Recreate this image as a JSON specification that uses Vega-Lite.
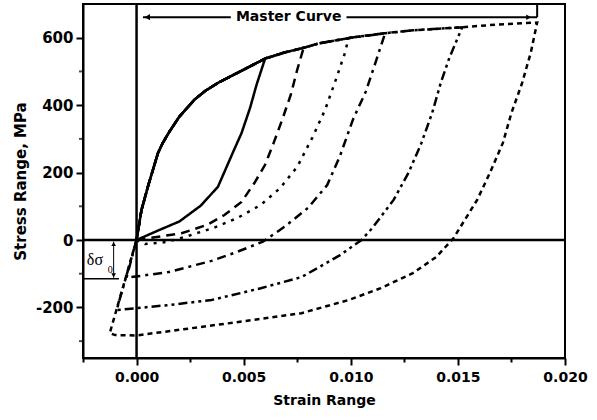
{
  "$schema": "https://vega.github.io/schema/vega-lite/v6.json",
  "width": 482,
  "height": 354,
  "autosize": "none",
  "padding": {"left": 83, "top": 4, "right": 32, "bottom": 62},
  "background": "white",
  "config": {
    "view": {"stroke": "black", "strokeWidth": 2},
    "axis": {
      "grid": false,
      "domainColor": "black",
      "domainWidth": 2,
      "tickColor": "black",
      "tickWidth": 2,
      "labelFont": "DejaVu Sans",
      "labelFontWeight": "bold",
      "labelColor": "black",
      "titleFont": "DejaVu Sans",
      "titleFontWeight": "bold",
      "titleColor": "black",
      "titleFontSize": 14,
      "labelOverlap": false,
      "labelFlush": false
    }
  },
  "datasets": {
    "loops": [
      {"loop": "L1", "i": 0, "strain": 0, "stress": 0},
      {"loop": "L1", "i": 1, "strain": 0.001, "stress": 28},
      {"loop": "L1", "i": 2, "strain": 0.002, "stress": 55},
      {"loop": "L1", "i": 3, "strain": 0.003, "stress": 102},
      {"loop": "L1", "i": 4, "strain": 0.0038, "stress": 158},
      {"loop": "L1", "i": 5, "strain": 0.0045, "stress": 260},
      {"loop": "L1", "i": 6, "strain": 0.0049, "stress": 317},
      {"loop": "L1", "i": 7, "strain": 0.0053, "stress": 392},
      {"loop": "L1", "i": 8, "strain": 0.0056, "stress": 460},
      {"loop": "L1", "i": 9, "strain": 0.006, "stress": 538},
      {"loop": "L1", "i": 10, "strain": 0.0049, "stress": 502},
      {"loop": "L1", "i": 11, "strain": 0.0038, "stress": 466},
      {"loop": "L1", "i": 12, "strain": 0.0032, "stress": 442},
      {"loop": "L1", "i": 13, "strain": 0.0027, "stress": 416},
      {"loop": "L1", "i": 14, "strain": 0.002, "stress": 366},
      {"loop": "L1", "i": 15, "strain": 0.0015, "stress": 318},
      {"loop": "L1", "i": 16, "strain": 0.0012, "stress": 285},
      {"loop": "L1", "i": 17, "strain": 0.001, "stress": 258},
      {"loop": "L1", "i": 18, "strain": 0.00056, "stress": 165},
      {"loop": "L1", "i": 19, "strain": 0.00023, "stress": 89},
      {"loop": "L1", "i": 20, "strain": 0, "stress": 0},

      {"loop": "L2", "i": 0, "strain": 0, "stress": 0},
      {"loop": "L2", "i": 1, "strain": 0.0021, "stress": 20},
      {"loop": "L2", "i": 2, "strain": 0.0033, "stress": 45},
      {"loop": "L2", "i": 3, "strain": 0.0041, "stress": 74},
      {"loop": "L2", "i": 4, "strain": 0.0049, "stress": 113},
      {"loop": "L2", "i": 5, "strain": 0.0055, "stress": 169},
      {"loop": "L2", "i": 6, "strain": 0.006, "stress": 223},
      {"loop": "L2", "i": 7, "strain": 0.0064, "stress": 288},
      {"loop": "L2", "i": 8, "strain": 0.0068, "stress": 357},
      {"loop": "L2", "i": 9, "strain": 0.0072, "stress": 431},
      {"loop": "L2", "i": 10, "strain": 0.0075, "stress": 505},
      {"loop": "L2", "i": 11, "strain": 0.0078, "stress": 570},
      {"loop": "L2", "i": 12, "strain": 0.0069, "stress": 556},
      {"loop": "L2", "i": 13, "strain": 0.006, "stress": 538},
      {"loop": "L2", "i": 14, "strain": 0.0049, "stress": 502},
      {"loop": "L2", "i": 15, "strain": 0.0038, "stress": 466},
      {"loop": "L2", "i": 16, "strain": 0.0032, "stress": 442},
      {"loop": "L2", "i": 17, "strain": 0.0027, "stress": 416},
      {"loop": "L2", "i": 18, "strain": 0.002, "stress": 366},
      {"loop": "L2", "i": 19, "strain": 0.0015, "stress": 318},
      {"loop": "L2", "i": 20, "strain": 0.0012, "stress": 285},
      {"loop": "L2", "i": 21, "strain": 0.001, "stress": 258},
      {"loop": "L2", "i": 22, "strain": 0.00056, "stress": 165},
      {"loop": "L2", "i": 23, "strain": 0.00023, "stress": 89},
      {"loop": "L2", "i": 24, "strain": 0, "stress": 0},

      {"loop": "L3", "i": 0, "strain": 0, "stress": 0},
      {"loop": "L3", "i": 1, "strain": 0.0004, "stress": -12},
      {"loop": "L3", "i": 2, "strain": 0.0014, "stress": -6},
      {"loop": "L3", "i": 3, "strain": 0.0024, "stress": 12},
      {"loop": "L3", "i": 4, "strain": 0.0036, "stress": 36},
      {"loop": "L3", "i": 5, "strain": 0.0047, "stress": 65},
      {"loop": "L3", "i": 6, "strain": 0.0058, "stress": 104},
      {"loop": "L3", "i": 7, "strain": 0.0067, "stress": 154},
      {"loop": "L3", "i": 8, "strain": 0.0075, "stress": 217},
      {"loop": "L3", "i": 9, "strain": 0.0082, "stress": 303},
      {"loop": "L3", "i": 10, "strain": 0.0088, "stress": 386},
      {"loop": "L3", "i": 11, "strain": 0.0093, "stress": 475},
      {"loop": "L3", "i": 12, "strain": 0.0097, "stress": 550},
      {"loop": "L3", "i": 13, "strain": 0.0099, "stress": 598},
      {"loop": "L3", "i": 14, "strain": 0.0085, "stress": 583},
      {"loop": "L3", "i": 15, "strain": 0.0078, "stress": 570},
      {"loop": "L3", "i": 16, "strain": 0.0069, "stress": 556},
      {"loop": "L3", "i": 17, "strain": 0.006, "stress": 538},
      {"loop": "L3", "i": 18, "strain": 0.0049, "stress": 502},
      {"loop": "L3", "i": 19, "strain": 0.0038, "stress": 466},
      {"loop": "L3", "i": 20, "strain": 0.0032, "stress": 442},
      {"loop": "L3", "i": 21, "strain": 0.0027, "stress": 416},
      {"loop": "L3", "i": 22, "strain": 0.002, "stress": 366},
      {"loop": "L3", "i": 23, "strain": 0.0015, "stress": 318},
      {"loop": "L3", "i": 24, "strain": 0.0012, "stress": 285},
      {"loop": "L3", "i": 25, "strain": 0.001, "stress": 258},
      {"loop": "L3", "i": 26, "strain": 0.00056, "stress": 165},
      {"loop": "L3", "i": 27, "strain": 0.00023, "stress": 89},
      {"loop": "L3", "i": 28, "strain": 0, "stress": 0},

      {"loop": "L4", "i": 0, "strain": 0, "stress": 0},
      {"loop": "L4", "i": 1, "strain": -0.00047, "stress": -112},
      {"loop": "L4", "i": 2, "strain": 0.0015, "stress": -95},
      {"loop": "L4", "i": 3, "strain": 0.0035, "stress": -62},
      {"loop": "L4", "i": 4, "strain": 0.0047, "stress": -35},
      {"loop": "L4", "i": 5, "strain": 0.0059, "stress": -5},
      {"loop": "L4", "i": 6, "strain": 0.0069, "stress": 39},
      {"loop": "L4", "i": 7, "strain": 0.008, "stress": 95},
      {"loop": "L4", "i": 8, "strain": 0.0089, "stress": 163},
      {"loop": "L4", "i": 9, "strain": 0.0095, "stress": 250},
      {"loop": "L4", "i": 10, "strain": 0.0101, "stress": 357},
      {"loop": "L4", "i": 11, "strain": 0.0107, "stress": 440},
      {"loop": "L4", "i": 12, "strain": 0.0112, "stress": 535},
      {"loop": "L4", "i": 13, "strain": 0.0116, "stress": 613},
      {"loop": "L4", "i": 14, "strain": 0.01, "stress": 600},
      {"loop": "L4", "i": 15, "strain": 0.0085, "stress": 583},
      {"loop": "L4", "i": 16, "strain": 0.0078, "stress": 570},
      {"loop": "L4", "i": 17, "strain": 0.0069, "stress": 556},
      {"loop": "L4", "i": 18, "strain": 0.006, "stress": 538},
      {"loop": "L4", "i": 19, "strain": 0.0049, "stress": 502},
      {"loop": "L4", "i": 20, "strain": 0.0038, "stress": 466},
      {"loop": "L4", "i": 21, "strain": 0.0032, "stress": 442},
      {"loop": "L4", "i": 22, "strain": 0.0027, "stress": 416},
      {"loop": "L4", "i": 23, "strain": 0.002, "stress": 366},
      {"loop": "L4", "i": 24, "strain": 0.0015, "stress": 318},
      {"loop": "L4", "i": 25, "strain": 0.0012, "stress": 285},
      {"loop": "L4", "i": 26, "strain": 0.001, "stress": 258},
      {"loop": "L4", "i": 27, "strain": 0.00056, "stress": 165},
      {"loop": "L4", "i": 28, "strain": 0.00023, "stress": 89},
      {"loop": "L4", "i": 29, "strain": 0, "stress": 0},

      {"loop": "L5", "i": 0, "strain": 0, "stress": 0},
      {"loop": "L5", "i": 1, "strain": -0.00093, "stress": -208},
      {"loop": "L5", "i": 2, "strain": 0.0015, "stress": -193},
      {"loop": "L5", "i": 3, "strain": 0.0035, "stress": -178},
      {"loop": "L5", "i": 4, "strain": 0.0058, "stress": -143},
      {"loop": "L5", "i": 5, "strain": 0.0077, "stress": -110},
      {"loop": "L5", "i": 6, "strain": 0.0095, "stress": -45},
      {"loop": "L5", "i": 7, "strain": 0.0105, "stress": 0},
      {"loop": "L5", "i": 8, "strain": 0.011, "stress": 35},
      {"loop": "L5", "i": 9, "strain": 0.012, "stress": 119},
      {"loop": "L5", "i": 10, "strain": 0.0127, "stress": 200},
      {"loop": "L5", "i": 11, "strain": 0.0133, "stress": 288},
      {"loop": "L5", "i": 12, "strain": 0.0138, "stress": 377},
      {"loop": "L5", "i": 13, "strain": 0.0142, "stress": 466},
      {"loop": "L5", "i": 14, "strain": 0.0146, "stress": 540},
      {"loop": "L5", "i": 15, "strain": 0.0152, "stress": 631},
      {"loop": "L5", "i": 16, "strain": 0.0129, "stress": 622},
      {"loop": "L5", "i": 17, "strain": 0.0114, "stress": 612},
      {"loop": "L5", "i": 18, "strain": 0.01, "stress": 600},
      {"loop": "L5", "i": 19, "strain": 0.0085, "stress": 583},
      {"loop": "L5", "i": 20, "strain": 0.0078, "stress": 570},
      {"loop": "L5", "i": 21, "strain": 0.0069, "stress": 556},
      {"loop": "L5", "i": 22, "strain": 0.006, "stress": 538},
      {"loop": "L5", "i": 23, "strain": 0.0049, "stress": 502},
      {"loop": "L5", "i": 24, "strain": 0.0038, "stress": 466},
      {"loop": "L5", "i": 25, "strain": 0.0032, "stress": 442},
      {"loop": "L5", "i": 26, "strain": 0.0027, "stress": 416},
      {"loop": "L5", "i": 27, "strain": 0.002, "stress": 366},
      {"loop": "L5", "i": 28, "strain": 0.0015, "stress": 318},
      {"loop": "L5", "i": 29, "strain": 0.0012, "stress": 285},
      {"loop": "L5", "i": 30, "strain": 0.001, "stress": 258},
      {"loop": "L5", "i": 31, "strain": 0.00056, "stress": 165},
      {"loop": "L5", "i": 32, "strain": 0.00023, "stress": 89},
      {"loop": "L5", "i": 33, "strain": 0, "stress": 0},

      {"loop": "L6", "i": 0, "strain": 0, "stress": 0},
      {"loop": "L6", "i": 1, "strain": -0.00125, "stress": -276},
      {"loop": "L6", "i": 2, "strain": -0.001, "stress": -282},
      {"loop": "L6", "i": 3, "strain": 0, "stress": -283},
      {"loop": "L6", "i": 4, "strain": 0.003, "stress": -258},
      {"loop": "L6", "i": 5, "strain": 0.00535, "stress": -238},
      {"loop": "L6", "i": 6, "strain": 0.0077, "stress": -217},
      {"loop": "L6", "i": 7, "strain": 0.0099, "stress": -178},
      {"loop": "L6", "i": 8, "strain": 0.0114, "stress": -143},
      {"loop": "L6", "i": 9, "strain": 0.0129, "stress": -98},
      {"loop": "L6", "i": 10, "strain": 0.014, "stress": -50},
      {"loop": "L6", "i": 11, "strain": 0.0148, "stress": 6},
      {"loop": "L6", "i": 12, "strain": 0.0159, "stress": 119},
      {"loop": "L6", "i": 13, "strain": 0.0165, "stress": 200},
      {"loop": "L6", "i": 14, "strain": 0.0171, "stress": 288},
      {"loop": "L6", "i": 15, "strain": 0.0175, "stress": 377},
      {"loop": "L6", "i": 16, "strain": 0.018, "stress": 466},
      {"loop": "L6", "i": 17, "strain": 0.0184, "stress": 555},
      {"loop": "L6", "i": 18, "strain": 0.0187, "stress": 645},
      {"loop": "L6", "i": 19, "strain": 0.0168, "stress": 639},
      {"loop": "L6", "i": 20, "strain": 0.015, "stress": 630},
      {"loop": "L6", "i": 21, "strain": 0.0129, "stress": 622},
      {"loop": "L6", "i": 22, "strain": 0.0114, "stress": 612},
      {"loop": "L6", "i": 23, "strain": 0.01, "stress": 600},
      {"loop": "L6", "i": 24, "strain": 0.0085, "stress": 583},
      {"loop": "L6", "i": 25, "strain": 0.0078, "stress": 570},
      {"loop": "L6", "i": 26, "strain": 0.0069, "stress": 556},
      {"loop": "L6", "i": 27, "strain": 0.006, "stress": 538},
      {"loop": "L6", "i": 28, "strain": 0.0049, "stress": 502},
      {"loop": "L6", "i": 29, "strain": 0.0038, "stress": 466},
      {"loop": "L6", "i": 30, "strain": 0.0032, "stress": 442},
      {"loop": "L6", "i": 31, "strain": 0.0027, "stress": 416},
      {"loop": "L6", "i": 32, "strain": 0.002, "stress": 366},
      {"loop": "L6", "i": 33, "strain": 0.0015, "stress": 318},
      {"loop": "L6", "i": 34, "strain": 0.0012, "stress": 285},
      {"loop": "L6", "i": 35, "strain": 0.001, "stress": 258},
      {"loop": "L6", "i": 36, "strain": 0.00056, "stress": 165},
      {"loop": "L6", "i": 37, "strain": 0.00023, "stress": 89},
      {"loop": "L6", "i": 38, "strain": 0, "stress": 0}
    ]
  },
  "layer": [
    {
      "data": {"name": "loops"},
      "mark": {"type": "line", "color": "black", "strokeWidth": 2.5, "clip": true},
      "encoding": {
        "x": {
          "field": "strain", "type": "quantitative",
          "scale": {"domain": [-0.0025, 0.02], "nice": false, "zero": false},
          "axis": {
            "title": "Strain Range",
            "values": [-0.0025, 0, 0.0025, 0.005, 0.0075, 0.01, 0.0125, 0.015, 0.0175, 0.02],
            "format": ".3f",
            "labelExpr": "abs(datum.value*200 - round(datum.value*200)) < 0.01 ? datum.label : ''",
            "tickSize": {"condition": {"test": "abs(datum.value*200 - round(datum.value*200)) < 0.01", "value": 7}, "value": 4},
            "labelFontSize": 14,
            "labelPadding": 5,
            "titlePadding": 9
          }
        },
        "y": {
          "field": "stress", "type": "quantitative",
          "scale": {"domain": [-350, 700], "nice": false, "zero": false},
          "axis": {
            "title": "Stress Range, MPa",
            "values": [-200, 0, 200, 400, 600],
            "format": "d",
            "labelExpr": "datum.value < 0 ? '-' + abs(datum.value) : '' + datum.value",
            "tickSize": 7,
            "labelFontSize": 15,
            "labelPadding": 3,
            "titlePadding": 7,
            "titleFontSize": 15
          }
        },
        "order": {"field": "i", "type": "quantitative"},
        "detail": {"field": "loop", "type": "nominal"},
        "strokeDash": {
          "field": "loop", "type": "nominal",
          "scale": {
            "domain": ["L1", "L2", "L3", "L4", "L5", "L6"],
            "range": [[1, 0], [9, 6], [3, 6], [9, 5, 3, 5], [9, 4, 3, 4, 3, 4], [5, 4]]
          },
          "legend": null
        }
      }
    },
    {
      "data": {"values": [{"minor": -300}, {"minor": -100}, {"minor": 100}, {"minor": 300}, {"minor": 500}]},
      "mark": {"type": "tick", "orient": "horizontal", "color": "black", "thickness": 2, "size": 4, "xOffset": -2, "clip": false},
      "encoding": {"x": {"datum": -0.0025}, "y": {"field": "minor", "type": "quantitative"}}
    },
    {
      "data": {"values": [{}]},
      "mark": {"type": "rule", "color": "black", "strokeWidth": 2.5},
      "encoding": {"x": {"datum": 0}}
    },
    {
      "data": {"values": [{}]},
      "mark": {"type": "rule", "color": "black", "strokeWidth": 2.5},
      "encoding": {"y": {"datum": 0}}
    },
    {
      "data": {"values": [{}]},
      "mark": {"type": "rule", "color": "black", "strokeWidth": 2},
      "encoding": {"x": {"datum": 0.0003}, "x2": {"datum": 0.0044}, "y": {"datum": 661}}
    },
    {
      "data": {"values": [{}]},
      "mark": {"type": "rule", "color": "black", "strokeWidth": 2},
      "encoding": {"x": {"datum": 0.0098}, "x2": {"datum": 0.0187}, "y": {"datum": 661}}
    },
    {
      "data": {"values": [{}]},
      "mark": {"type": "rule", "color": "black", "strokeWidth": 2},
      "encoding": {"x": {"datum": 0.0187}, "y": {"datum": 661}, "y2": {"datum": 700}}
    },
    {
      "data": {"values": [{}]},
      "mark": {"type": "point", "shape": "triangle-left", "filled": true, "color": "black", "size": 40, "opacity": 1},
      "encoding": {"x": {"datum": 0.0005}, "y": {"datum": 661}}
    },
    {
      "data": {"values": [{}]},
      "mark": {"type": "point", "shape": "triangle-right", "filled": true, "color": "black", "size": 30, "opacity": 1},
      "encoding": {"x": {"datum": 0.0183}, "y": {"datum": 661}}
    },
    {
      "data": {"values": [{}]},
      "mark": {"type": "text", "text": "Master Curve", "font": "DejaVu Sans", "fontWeight": "bold", "fontSize": 14, "align": "center", "baseline": "middle", "color": "black"},
      "encoding": {"x": {"datum": 0.0071}, "y": {"datum": 661}}
    },
    {
      "data": {"values": [{}]},
      "mark": {"type": "rule", "color": "black", "strokeWidth": 1.5},
      "encoding": {"x": {"datum": -0.0025}, "x2": {"datum": -0.00082}, "y": {"datum": -115}}
    },
    {
      "data": {"values": [{}]},
      "mark": {"type": "rule", "color": "black", "strokeWidth": 1},
      "encoding": {"x": {"datum": -0.00107}, "y": {"datum": -5}, "y2": {"datum": -112}}
    },
    {
      "data": {"values": [{}]},
      "mark": {"type": "point", "shape": "triangle-up", "filled": true, "color": "black", "size": 22, "opacity": 1},
      "encoding": {"x": {"datum": -0.00107}, "y": {"datum": -12}}
    },
    {
      "data": {"values": [{}]},
      "mark": {"type": "point", "shape": "triangle-down", "filled": true, "color": "black", "size": 22, "opacity": 1},
      "encoding": {"x": {"datum": -0.00107}, "y": {"datum": -105}}
    },
    {
      "data": {"values": [{}]},
      "mark": {"type": "text", "text": "δσ", "font": "Liberation Serif", "fontSize": 16, "align": "left", "baseline": "middle", "color": "black"},
      "encoding": {"x": {"datum": -0.00232}, "y": {"datum": -60}}
    },
    {
      "data": {"values": [{}]},
      "mark": {"type": "text", "text": "0", "font": "Liberation Serif", "fontSize": 10, "align": "left", "baseline": "middle", "color": "black"},
      "encoding": {"x": {"datum": -0.00135}, "y": {"datum": -88}}
    }
  ]
}
